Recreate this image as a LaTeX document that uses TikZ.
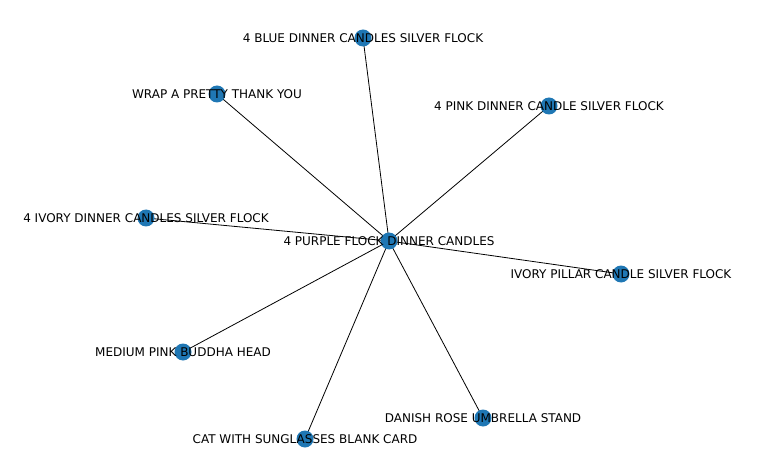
\documentclass[tikz,border=0pt]{standalone}
\usepackage{fontspec}
\setmainfont{DejaVu Sans}
\definecolor{nodeblue}{HTML}{1F77B4}
\tikzset{
  item/.style={circle,fill=nodeblue,inner sep=0pt,minimum size=17pt},
  itemlabel/.style={inner sep=0pt,font=\fontsize{12}{12}\selectfont,text=black},
  link/.style={black,line width=0.8pt}
}
\begin{document}
\begin{tikzpicture}[x=1pt,y=-1pt]
\useasboundingbox (0,0) rectangle (770,470);
\coordinate (purple) at (389,241);
\coordinate (blue) at (363,38);
\coordinate (wrap) at (217,94);
\coordinate (pink) at (549,106);
\coordinate (ivory) at (146,218);
\coordinate (pillar) at (621,274);
\coordinate (buddha) at (183,352);
\coordinate (danish) at (483,418);
\coordinate (cat) at (305,439);
\foreach \n in {blue,wrap,pink,ivory,pillar,buddha,danish,cat}
  \draw[link] (purple)--(\n);
\foreach \n in {purple,blue,wrap,pink,ivory,pillar,buddha,danish,cat}
  \node[item] at (\n) {};
\node[itemlabel] at (purple) {4 PURPLE FLOCK DINNER CANDLES};
\node[itemlabel] at (blue) {4 BLUE DINNER CANDLES SILVER FLOCK};
\node[itemlabel] at (wrap) {WRAP A PRETTY THANK YOU};
\node[itemlabel] at (pink) {4 PINK DINNER CANDLE SILVER FLOCK};
\node[itemlabel] at (ivory) {4 IVORY DINNER CANDLES SILVER FLOCK};
\node[itemlabel] at (pillar) {IVORY PILLAR CANDLE SILVER FLOCK};
\node[itemlabel] at (buddha) {MEDIUM PINK BUDDHA HEAD};
\node[itemlabel] at (danish) {DANISH ROSE UMBRELLA STAND};
\node[itemlabel] at (cat) {CAT WITH SUNGLASSES BLANK CARD};
\end{tikzpicture}
\end{document}
